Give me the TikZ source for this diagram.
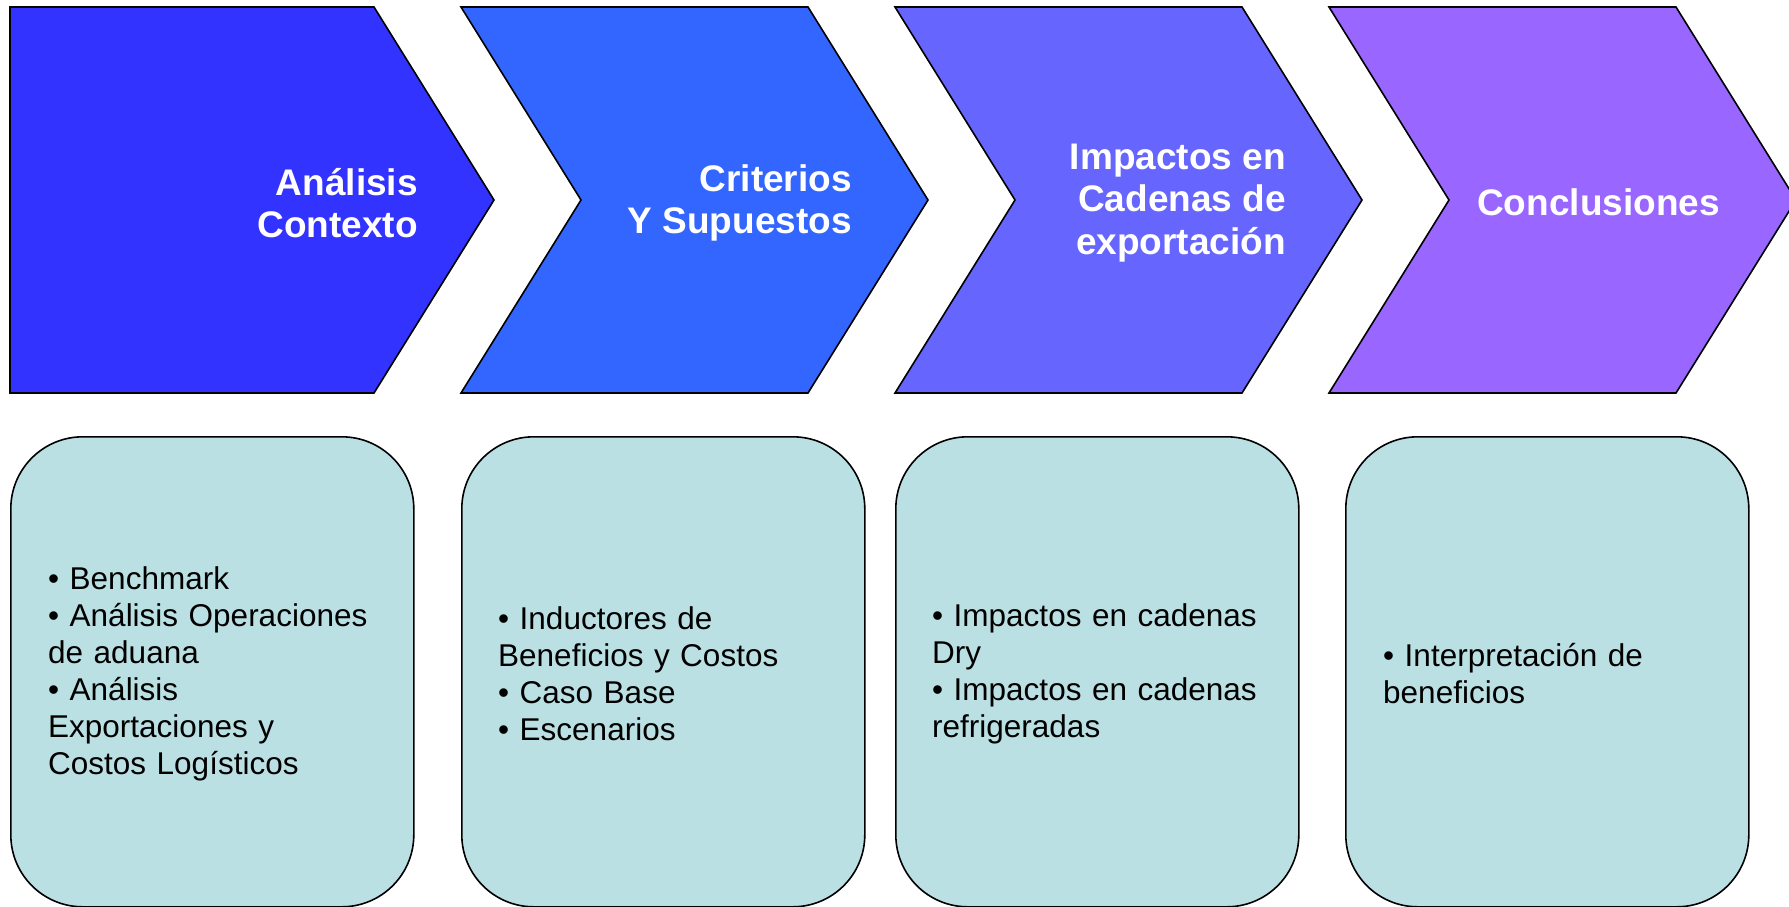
\documentclass[tikz,border=0pt]{standalone}
\usepackage{fontspec}
\setmainfont{Liberation Sans}
\definecolor{cA}{HTML}{3333FF}
\definecolor{cB}{HTML}{3366FF}
\definecolor{cC}{HTML}{6666FF}
\definecolor{cD}{HTML}{9966FF}
\definecolor{boxfill}{HTML}{BBE0E3}
\tikzset{
  chev/.style={draw=black, line width=1.6pt, line join=miter},
  title/.style={anchor=east, align=right, text=white, inner sep=0pt,
    font=\fontsize{37}{42.5}\selectfont\bfseries},
  infobox/.style={draw=black, line width=1.6pt, fill=boxfill, rounded corners=72pt,
    minimum height=470pt, minimum width=403pt, inner sep=0pt, anchor=north west},
  infotext/.style={text width=327pt, inner sep=0pt, align=left, anchor=west,
    font=\fontsize{31.5}{37}\selectfont}
}
\begin{document}
\begin{tikzpicture}[x=1pt,y=-1pt]
\useasboundingbox (0,0) rectangle (1789,906);
\begin{scope}
\clip (0,0) rectangle (1789,906);
% chevrons
\draw[chev, fill=cA] (10,7) -- (374,7) -- (494,200) -- (374,393) -- (10,393) -- cycle;
\draw[chev, fill=cB] (461,7) -- (808,7) -- (928,200) -- (808,393) -- (461,393) -- (581,200) -- cycle;
\draw[chev, fill=cC] (895,7) -- (1242,7) -- (1362,200) -- (1242,393) -- (895,393) -- (1015,200) -- cycle;
\draw[chev, fill=cD] (1329,7) -- (1676,7) -- (1796,200) -- (1676,393) -- (1329,393) -- (1449,200) -- cycle;
\node[title] (t1) at (418,203) {Análisis\\Contexto};
\node[title] (t2) at (852,203) {Criterios\\Y Supuestos};
\node[title] (t3) at (1286,203) {Impactos en\\Cadenas de\\exportación};
\node[title] (t4) at (1720,202) {Conclusiones};
% boxes
\node[infobox] (b1) at (10,436) {};
\node[infobox] (b2) at (461,436) {};
\node[infobox] (b3) at (895,436) {};
\node[infobox] (b4) at (1345,436) {};
\node[infotext] (x1) at (48,674) {• Benchmark\\• Análisis Operaciones\\de aduana\\• Análisis\\Exportaciones y\\Costos Logísticos};
\node[infotext] (x2) at (498,674) {• Inductores de\\Beneficios y Costos\\• Caso Base\\• Escenarios};
\node[infotext] (x3) at (932,674) {• Impactos en cadenas\\Dry\\• Impactos en cadenas\\refrigeradas};
\node[infotext] (x4) at (1383,674) {• Interpretación de\\beneficios};
\end{scope}
\end{tikzpicture}
\end{document}
